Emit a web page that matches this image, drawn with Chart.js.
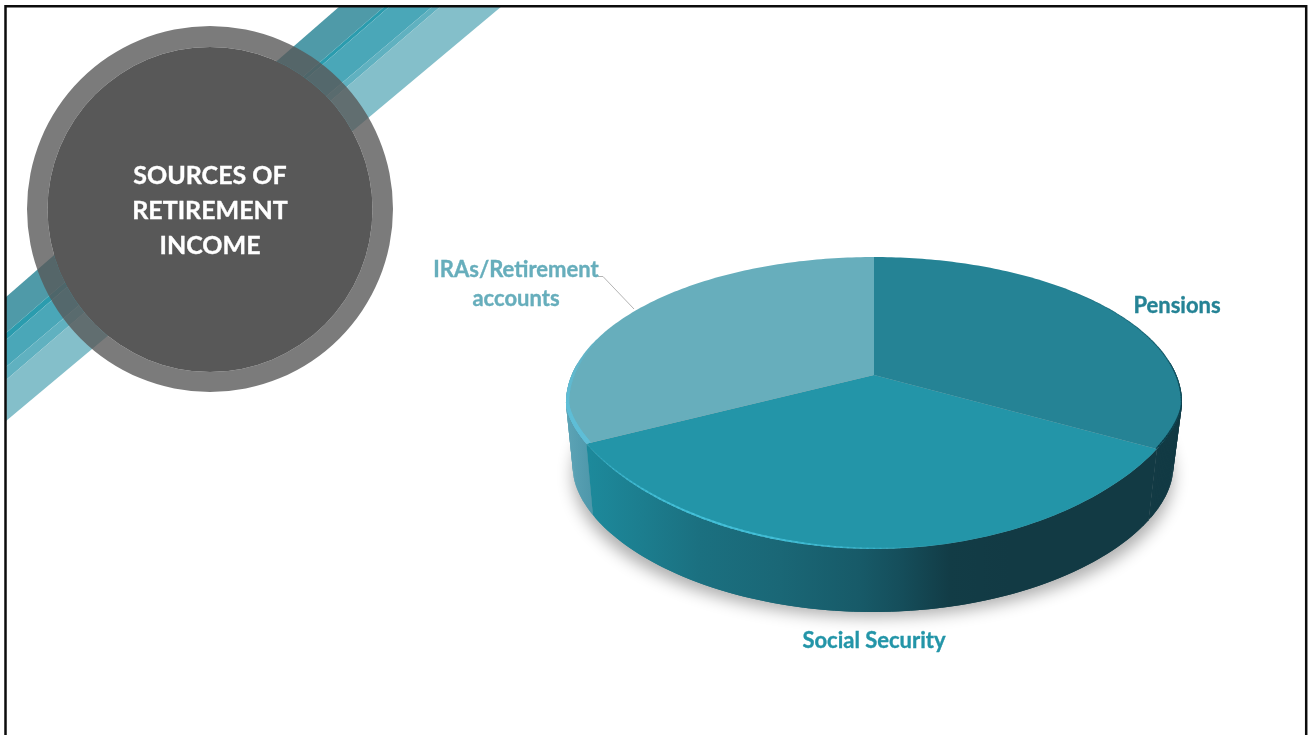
<!DOCTYPE html>
<html>
<head>
<meta charset="utf-8">
<title>Sources of retirement income</title>
<script src="https://cdn.jsdelivr.net/npm/chart.js@4/dist/chart.umd.min.js"></script>
<style>
	html, body { margin: 0; padding: 0; background: #fff; overflow: hidden; }
	canvas { display: block; }
</style>
</head>
<body>
<canvas id="my_Chart" width="1312" height="735"></canvas>
<script>
var titleLines = ['SOURCES OF', 'RETIREMENT', 'INCOME'];
var Labels = ['Pensions', 'Social Security', 'IRAs/Retirement accounts'];
var Values = [34.2, 32.2, 33.6];
var Colors = ['#258395', '#2395a8', '#67aebc'];

var DEG = Math.PI / 180;

// tilt of the flat pie: the apex sits above the centre of the rim ellipse
var TILT = -0.1918;
var rimCx = 874, rimCy = 405, rimRy = 144;
var baseCx = 873, baseCy = 470, baseRx = 300, baseRy = 142;

function rimPoint(arc, a) {
	var d = 1 + TILT * Math.sin(a);
	var X = arc.x + arc.outerRadius * 1.0077 * Math.cos(a) / d;
	var Y = arc.y + arc.outerRadius * 0.4687 * Math.sin(a) / d;
	// front edge of the disc is a bit pointier than an ellipse
	if (Y > rimCy) {
		Y = rimCy + rimRy * Math.pow((Y - rimCy) / rimRy, 1.25);
	}
	return [X, Y];
}

function basePoint(arc, a) {
	var p = rimPoint(arc, a);
	var d = 1 + TILT * Math.sin(a);
	var rawY = arc.y + arc.outerRadius * 0.4687 * Math.sin(a) / d;
	var Y = baseCy + (rawY - 403) * baseRy / 146;
	if (Y > baseCy) {
		Y = baseCy + baseRy * Math.pow((Y - baseCy) / baseRy, 1.12);
	}
	return [baseCx + (p[0] - rimCx) * baseRx / 308, Y];
}

function sweep(from, to) {
	var pts = [];
	var n = Math.max(2, Math.ceil(Math.abs(to - from) / DEG));
	for (var i = 0; i <= n; i++) pts.push(from + (to - from) * i / n);
	return pts;
}

function wallGradient(ctx, stops) {
	var g = ctx.createLinearGradient(560, 0, 1190, 0);
	stops.forEach(function (s) { g.addColorStop((s[0] - 560) / 630, s[1]); });
	return g;
}

// fill plus a hairline stroke, the bold face alone looks too light
function boldText(ctx, text, x, y, color) {
	ctx.fillStyle = color;
	ctx.strokeStyle = color;
	ctx.lineWidth = 0.35;
	ctx.fillText(text, x, y);
	ctx.strokeText(text, x, y);
}

function drawBackdrop(ctx) {
	ctx.save();
	// diagonal ribbon behind the title, clipped by the frame
	ctx.beginPath();
	ctx.rect(6, 6, 1300, 729);
	ctx.clip();
	var bands = [
		[340, 385, 297, 333, '#4f9aa8'],
		[385, 390, 333, 340, '#2b9cae'],
		[390, 433, 340, 367, '#4aa7b8'],
		[433, 441, 367, 380, '#60b1c0'],
		[441, 502, 380, 421, '#84bfca']
	];
	bands.forEach(function (b) {
		ctx.fillStyle = b[4];
		ctx.beginPath();
		ctx.moveTo(b[0], 6);
		ctx.lineTo(b[1], 6);
		ctx.lineTo(6, b[3]);
		ctx.lineTo(6, b[2]);
		ctx.closePath();
		ctx.fill();
	});
	ctx.restore();

	// title disc with its translucent ring
	ctx.fillStyle = 'rgba(88,88,88,0.79)';
	ctx.beginPath();
	ctx.arc(210, 209, 183, 0, Math.PI * 2);
	ctx.arc(210, 209.5, 162.5, 0, Math.PI * 2, true);
	ctx.fill();
	ctx.fillStyle = '#585858';
	ctx.beginPath();
	ctx.arc(210, 209.5, 162.5, 0, Math.PI * 2);
	ctx.fill();

	// slide frame, open at the bottom
	ctx.strokeStyle = '#0c0c0c';
	ctx.lineWidth = 2.5;
	ctx.beginPath();
	ctx.moveTo(5.5, 735);
	ctx.lineTo(5.5, 6.2);
	ctx.lineTo(1306.2, 6.2);
	ctx.lineTo(1306.2, 735);
	ctx.stroke();

	ctx.textAlign = 'center';
	ctx.textBaseline = 'alphabetic';
	ctx.font = 'bold 25px Lato';
	titleLines.forEach(function (line, i) {
		boldText(ctx, line, 210, 184 + i * 35, '#fff');
	});
}

// only the blur lands on the canvas, the ellipse itself is drawn off to the left
function drawShadow(ctx) {
	ctx.save();
	ctx.shadowColor = 'rgba(0,0,0,0.32)';
	ctx.shadowBlur = 16;
	ctx.shadowOffsetX = 2000;
	ctx.shadowOffsetY = 5;
	ctx.fillStyle = '#000';
	ctx.beginPath();
	ctx.ellipse(baseCx - 2000, baseCy, baseRx, baseRy, 0, 0, Math.PI * 2);
	ctx.fill();
	ctx.restore();
}

// side of one slice, built from thin overlapping quads between rim and base
function drawWall(ctx, arc, fill) {
	var from = Math.max(arc.startAngle, -5 * DEG);
	var to = Math.min(arc.endAngle, 185 * DEG);
	if (to <= from) return;
	var angles = sweep(from, to);
	ctx.fillStyle = fill;
	for (var i = 1; i < angles.length; i++) {
		var prev = angles[Math.max(0, i - 2)];
		var t0 = rimPoint(arc, prev), t1 = rimPoint(arc, angles[i]);
		var b0 = basePoint(arc, prev), b1 = basePoint(arc, angles[i]);
		ctx.beginPath();
		ctx.moveTo(t0[0], t0[1]);
		ctx.lineTo(t1[0], t1[1]);
		ctx.lineTo(b1[0], b1[1]);
		ctx.lineTo(b0[0], b0[1]);
		ctx.closePath();
		ctx.fill();
	}
}

function faceOutline(ctx, arc) {
	ctx.beginPath();
	ctx.moveTo(arc.x, arc.y);
	sweep(arc.startAngle, arc.endAngle).forEach(function (a) {
		var p = rimPoint(arc, a);
		ctx.lineTo(p[0], p[1]);
	});
	ctx.closePath();
}

// soft edge on a slice; fade picks how the strength runs along the sweep
function drawRim(ctx, arc, from, to, rgb, alpha, width, fade) {
	ctx.save();
	faceOutline(ctx, arc);
	ctx.clip();
	ctx.lineCap = 'round';
	var angles = sweep(from, to);
	for (var i = 1; i < angles.length; i++) {
		var p0 = rimPoint(arc, angles[i - 1]);
		var p1 = rimPoint(arc, angles[i]);
		var k = fade(i / angles.length);
		ctx.strokeStyle = 'rgba(' + rgb + ',' + (alpha * k) + ')';
		ctx.lineWidth = width * (0.4 + 0.6 * k);
		ctx.beginPath();
		ctx.moveTo(p0[0], p0[1]);
		ctx.lineTo(p1[0], p1[1]);
		ctx.stroke();
	}
	ctx.restore();
}

function fadeOut(t) { return 1 - t; }
function fadeBell(t) { return Math.sin(Math.PI * t); }

function drawLabels(ctx) {
	ctx.strokeStyle = '#b4b4b4';
	ctx.lineWidth = 1;
	ctx.beginPath();
	ctx.moveTo(598, 276.5);
	ctx.lineTo(603, 276.5);
	ctx.lineTo(634, 309);
	ctx.stroke();

	ctx.font = 'bold 22px Lato';
	ctx.textBaseline = 'alphabetic';
	ctx.textAlign = 'center';
	boldText(ctx, Labels[0], 1177, 313, Colors[0]);
	boldText(ctx, Labels[1], 874, 648, Colors[1]);
	// long label wraps onto two lines
	var parts = Labels[2].split(' ');
	boldText(ctx, parts[0], 516, 277, Colors[2]);
	boldText(ctx, parts[1], 516, 306, Colors[2]);
}

var pieTilt = {
	id: 'pieTilt',
	beforeDraw: function (chart) {
		var ctx = chart.ctx;
		ctx.save();
		ctx.fillStyle = '#fff';
		ctx.fillRect(0, 0, chart.width, chart.height);
		drawBackdrop(ctx);
		ctx.restore();
	},
	beforeDatasetsDraw: function (chart) {
		var ctx = chart.ctx;
		var arcs = chart.getDatasetMeta(0).data;
		ctx.save();
		drawShadow(ctx);

		drawWall(ctx, arcs[2], wallGradient(ctx, [[566, '#5da4b6'], [590, '#4f98ab']]));
		drawWall(ctx, arcs[1], wallGradient(ctx, [
			[585, '#1d8a9c'], [640, '#1c7e8f'], [700, '#1b7080'], [780, '#1a6776'],
			[860, '#175a68'], [900, '#154e5b'], [950, '#123c46'], [1010, '#123a44'], [1160, '#123a44']
		]));
		drawWall(ctx, arcs[0], '#123a44');

		arcs.forEach(function (arc) {
			ctx.fillStyle = arc.options.backgroundColor;
			faceOutline(ctx, arc);
			ctx.fill();
		});

		drawRim(ctx, arcs[0], 33 * DEG, -50 * DEG, '8,50,62', 0.7, 3, fadeOut);
		drawRim(ctx, arcs[1], 149 * DEG, 80 * DEG, '70,195,220', 0.8, 4, fadeBell);
		drawRim(ctx, arcs[2], 149 * DEG, 200 * DEG, '95,190,215', 0.9, 9, fadeOut);

		drawLabels(ctx);
		ctx.restore();
		return false;
	}
};

var ctx = document.getElementById('my_Chart').getContext('2d');
var myChart = new Chart(ctx, {
	type: 'pie',
	data: {
		labels: Labels,
		datasets: [{
			data: Values,
			backgroundColor: Colors,
			borderWidth: 0
		}]
	},
	options: {
		responsive: false,
		animation: false,
		// centres the 300px pie on the apex at 874,375
		layout: { padding: { left: 574, right: 138, top: 75, bottom: 60 } },
		plugins: {
			legend: { display: false },
			tooltip: { enabled: false }
		}
	},
	plugins: [pieTilt]
});
</script>
</body>
</html>
